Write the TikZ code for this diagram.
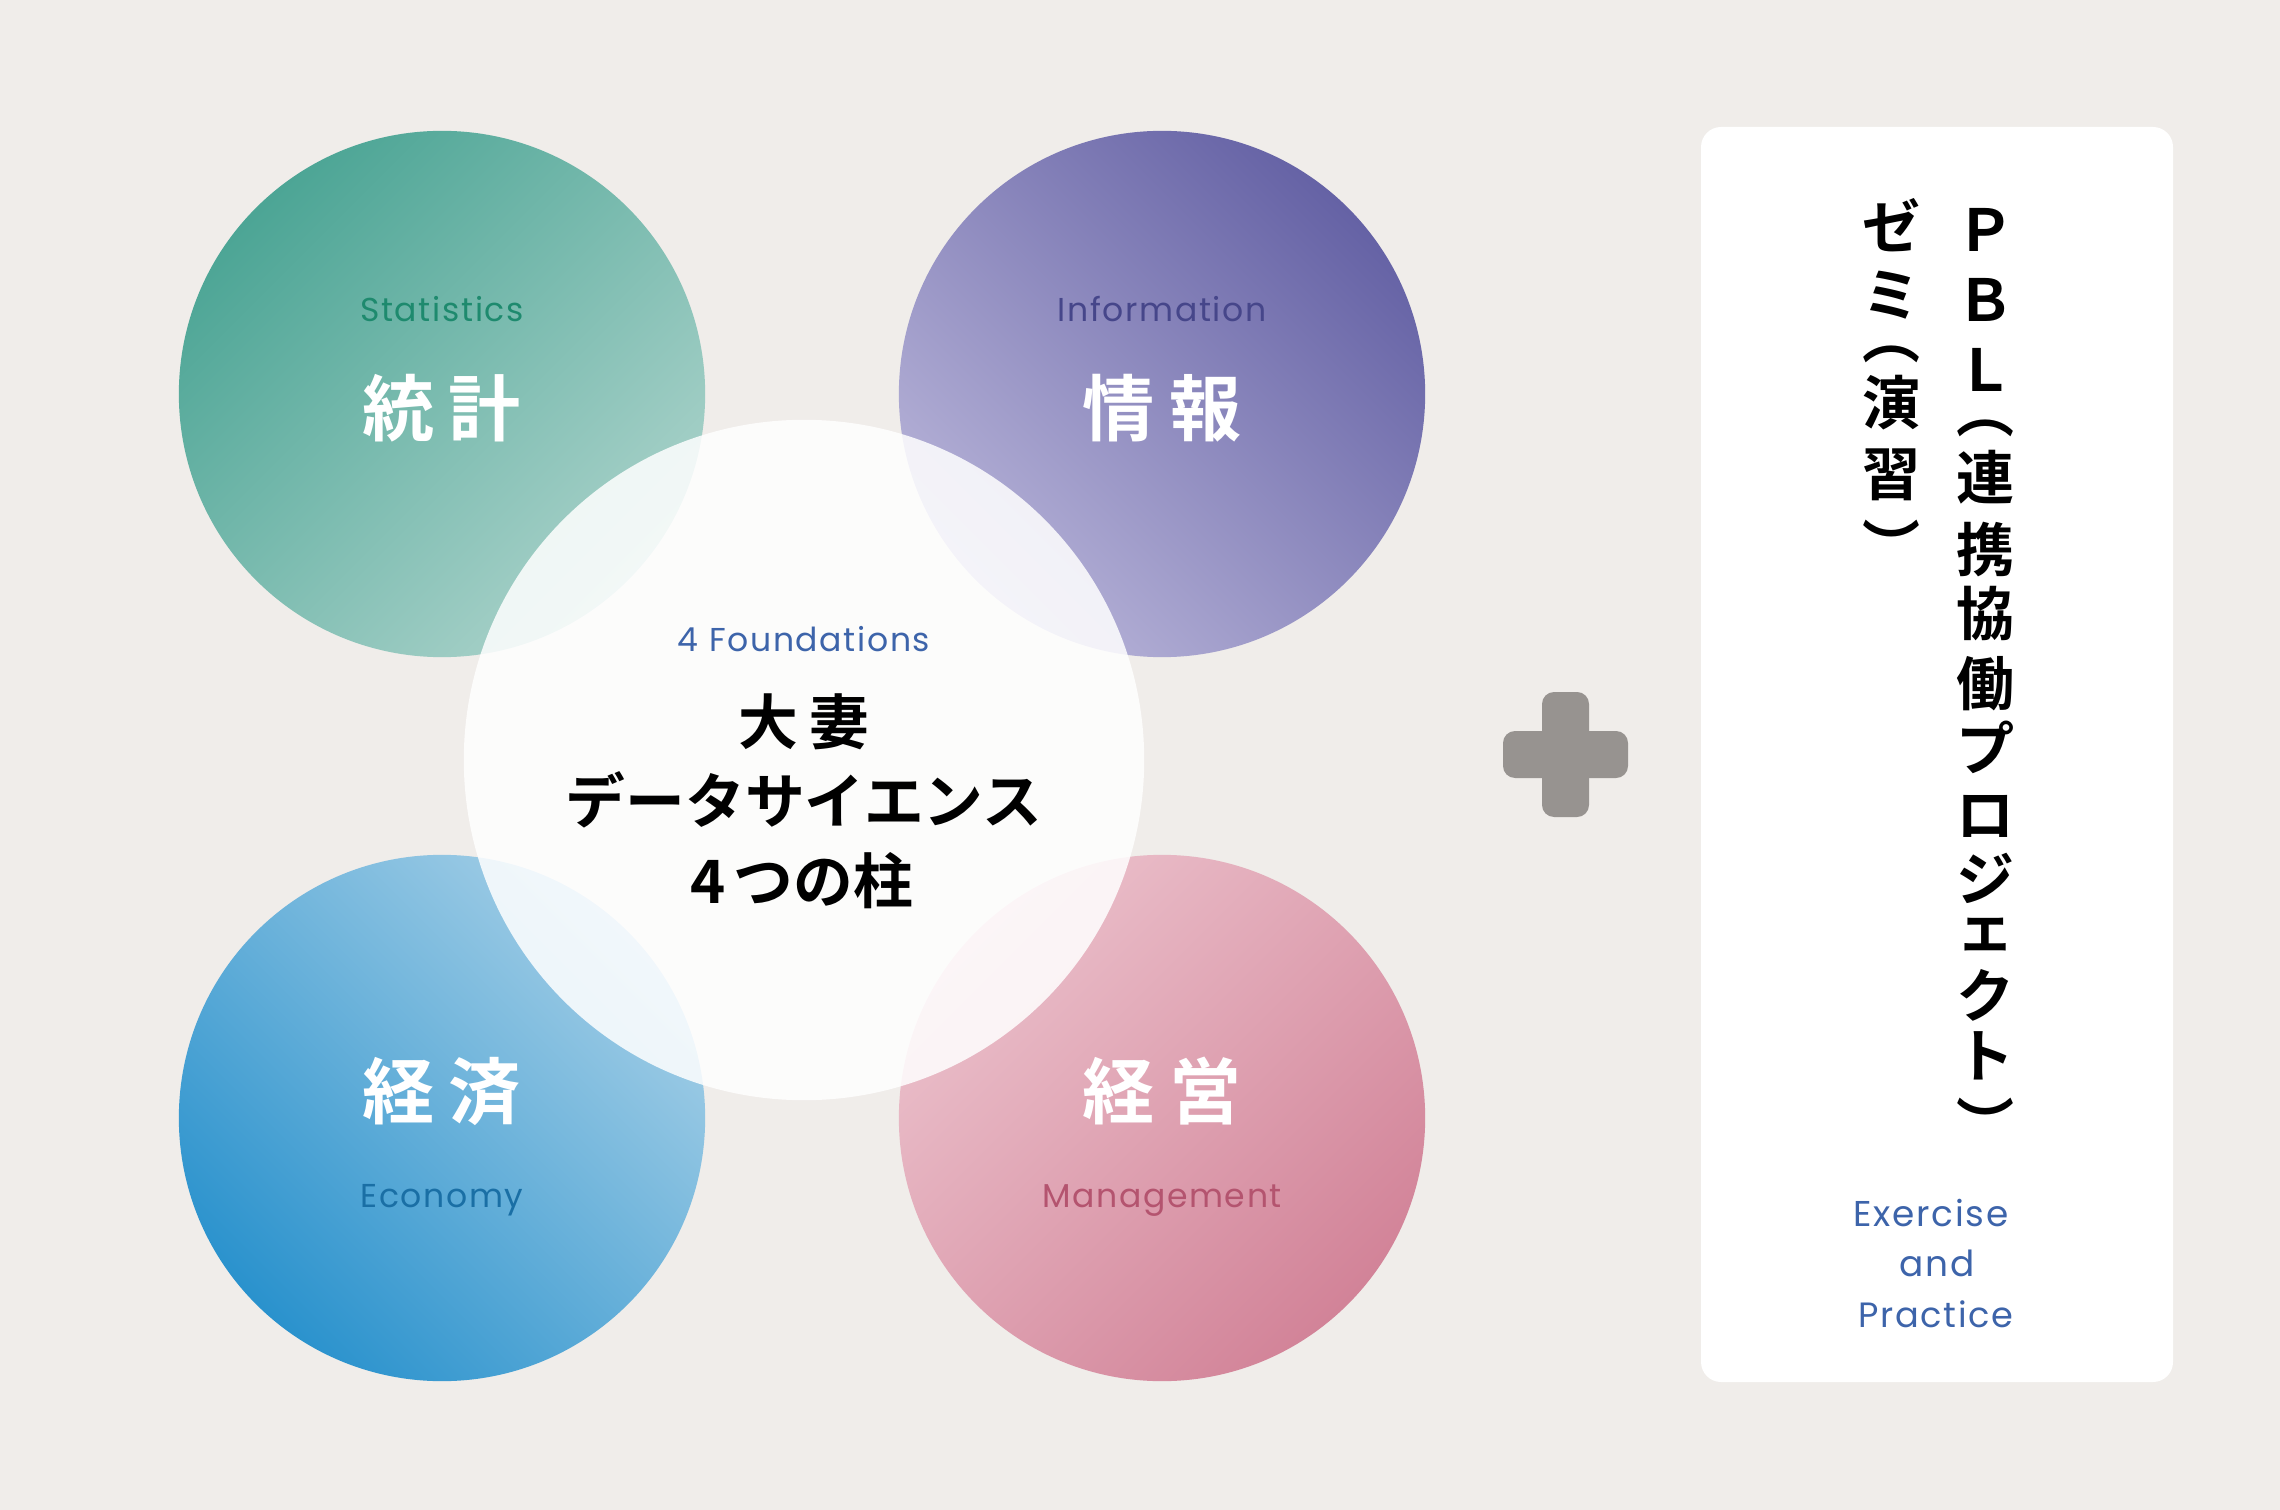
\documentclass[tikz,border=0pt]{standalone}
\usepackage{fontspec}
\usepackage{tikz}
\usetikzlibrary{positioning}
\newfontfamily\jpfont{Noto Sans CJK JP}[BoldFont=* Bold]
\newfontfamily\enfont{Poppins}[LetterSpace=5]
\definecolor{bg}{HTML}{F0EDEA}
\definecolor{statdark}{HTML}{4CA595}
\definecolor{statlight}{HTML}{AAD2CA}
\definecolor{infodark}{HTML}{6562A5}
\definecolor{infolight}{HTML}{B7B3D8}
\definecolor{econdark}{HTML}{2A92CD}
\definecolor{econlight}{HTML}{A3CEE6}
\definecolor{mgmtdark}{HTML}{D28398}
\definecolor{mgmtlight}{HTML}{EBC0CB}
\definecolor{stattext}{HTML}{1E8A6E}
\definecolor{infotext}{HTML}{46468A}
\definecolor{econtext}{HTML}{1A6FA5}
\definecolor{mgmttext}{HTML}{B4546F}
\definecolor{bluetext}{HTML}{3D64AA}
\definecolor{plusgray}{HTML}{979390}
\newcommand{\kgap}{\hspace{0.14cm}}
\tikzstyle{pillar} = [circle, minimum size=5.26cm, inner sep=0pt]
\tikzstyle{core} = [circle, minimum size=6.8cm, inner sep=0pt, fill=white, fill opacity=0.85]
\tikzstyle{kanji} = [inner sep=0pt, text=white, font=\jpfont\bfseries\fontsize{20.5}{24}\selectfont]
\tikzstyle{engl} = [anchor=base, inner sep=0pt, font=\enfont\fontsize{9.4}{11}\selectfont]
\tikzstyle{coretext} = [inner sep=0pt, font=\jpfont\bfseries\fontsize{17}{20}\selectfont]
\tikzstyle{tate} = [inner sep=0pt, font=\jpfont\bfseries\fontsize{16.5}{20}\selectfont]
\tikzstyle{plusbar} = [fill=plusgray, rounded corners=0.12cm]

\begin{document}
\begin{tikzpicture}[x=0.01cm, y=-0.01cm]
	\fill[bg] (0,0) rectangle (2280,1510);
	
	% four pillars
	\node (stat) [pillar, top color=statdark, bottom color=statlight, shading angle=45] at (442,394) {};
	\node (info) [pillar, top color=infodark, bottom color=infolight, shading angle=-45] at (1162,394) {};
	\node (econ) [pillar, top color=econlight, bottom color=econdark, shading angle=-45] at (442,1118) {};
	\node (mgmt) [pillar, top color=mgmtlight, bottom color=mgmtdark, shading angle=45] at (1162,1118) {};
	\node (core) [core] at (804,760) {};
	
	\node (staten) [engl, text=stattext] at (442,322) {Statistics};
	\node (statjp) [kanji] at (442,408) {統\kgap 計};
	\node (infoen) [engl, text=infotext] at (1162,322) {Information};
	\node (infojp) [kanji] at (1162,408) {情\kgap 報};
	\node (econjp) [kanji] at (442,1091) {経\kgap 済};
	\node (econen) [engl, text=econtext] at (442,1207) {Economy};
	\node (mgmtjp) [kanji] at (1162,1091) {経\kgap 営};
	\node (mgmten) [engl, text=mgmttext] at (1162,1207) {Management};
	
	\node (coreen) [engl, text=bluetext] at (804,652) {4 Foundations};
	\node (core1) [coretext] at (804,722) {大\hspace{0.12cm}妻};
	\node (core2) [coretext] at (804,800) {データサイエンス};
	\node (core3) [coretext] at (802,881) {4\hspace{0.08cm}つの柱};
	
	% plus
	\fill[plusbar] (1503,731) rectangle (1628,778);
	\fill[plusbar] (1542,692) rectangle (1589,817);
	
	% exercise panel
	\fill[white, rounded corners=0.2cm] (1701,127) rectangle (2173,1382);
	\foreach \ch/\yy [count=\i] in {Ｐ/230, Ｂ/300, Ｌ/370, ︵/428, 連/477, 携/550, 協/614, 働/684, プ/747, ロ/816, ジ/878, ェ/935, ク/995, ト/1056, ︶/1122}
		\node (pbl\i) [tate] at (1985,\yy) {\ch};
	\foreach \ch/\yy [count=\i] in {ゼ/225, ミ/295, ︵/354, 演/403, 習/475, ︶/544}
		\node (zemi\i) [tate] at (1891,\yy) {\ch};
	\node (ex1) [engl, text=bluetext, font=\enfont\fontsize{10.2}{12}\selectfont] at (1931,1226) {Exercise};
	\node (ex2) [engl, text=bluetext, font=\enfont\fontsize{10.2}{12}\selectfont] at (1937,1276) {and};
	\node (ex3) [engl, text=bluetext, font=\enfont\fontsize{10}{12}\selectfont] at (1936,1327) {Practice};
\end{tikzpicture}
\end{document}
